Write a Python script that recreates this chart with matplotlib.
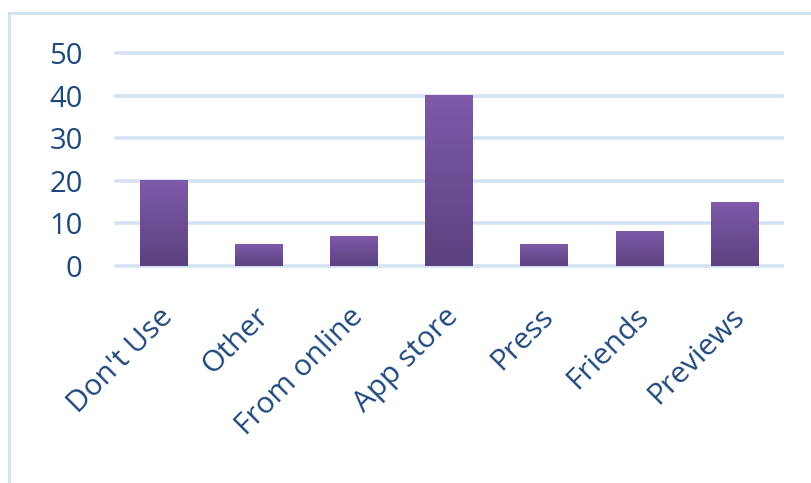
import matplotlib
matplotlib.use("Agg")
import matplotlib.pyplot as plt
import numpy as np
from matplotlib.patches import Rectangle
from matplotlib.colors import LinearSegmentedColormap
from matplotlib.transforms import ScaledTranslation

categories = ["Don't Use", "Other", "From online", "App store", "Press", "Friends", "Previews"]
values = [20, 5, 7, 40, 5, 8, 15]
yticks = [0, 10, 20, 30, 40, 50]

W, H = 811, 483
fig = plt.figure(figsize=(W/100, H/100), dpi=100)
fig.patch.set_facecolor("white")

# chart-area border (left and top visible)
border = Rectangle((9/W, -0.05), 1.2, 1 - 13/H + 0.05, transform=fig.transFigure,
                   fill=False, edgecolor="#d5e2f2", linewidth=2.2)
fig.add_artist(border)

ax = fig.add_axes([116/W, 1 - 266/H, (782-116)/W, (266-53)/H])
ax.set_xlim(-0.5, len(categories) - 0.5)
ax.set_ylim(0, 50)

grid_color = "#d5e2f2"
for t in yticks:
    ax.axhline(t, color=grid_color, linewidth=2.6, zorder=1, clip_on=False)

cmap = LinearSegmentedColormap.from_list("pg", ["#5c4180", "#7e5aa9"])
x = np.arange(len(categories))
bars = ax.bar(x, values, width=0.5, color="none", zorder=2)
grad = np.linspace(0, 1, 256).reshape(-1, 1)
for b in bars:
    x0, y0 = b.get_x(), b.get_y()
    w, h = b.get_width(), b.get_height()
    ax.imshow(grad, cmap=cmap, origin="lower", aspect="auto",
              extent=[x0, x0 + w, y0, y0 + h], zorder=3)
ax.set_xlim(-0.5, len(categories) - 0.5)
ax.set_ylim(0, 50)

label_color = "#1f497d"
font = "Open Sans"
ax.set_yticks(yticks)
ax.set_yticklabels([str(t) for t in yticks], fontsize=21, color=label_color, family=font)
ax.set_xticks(x)
ax.set_xticklabels(categories, rotation=45, ha="right", rotation_mode="anchor",
                   fontsize=21.5, color=label_color, family=font)
ax.tick_params(axis="both", length=0)
ax.tick_params(axis="y", pad=24)
ax.tick_params(axis="x", pad=26)
shift = ScaledTranslation(-5/100, 0, fig.dpi_scale_trans)
for lbl in ax.get_xticklabels():
    lbl.set_transform(lbl.get_transform() + shift)
for s in ax.spines.values():
    s.set_visible(False)
ax.set_facecolor("none")

fig.savefig("out.png", dpi=100, facecolor="white")
